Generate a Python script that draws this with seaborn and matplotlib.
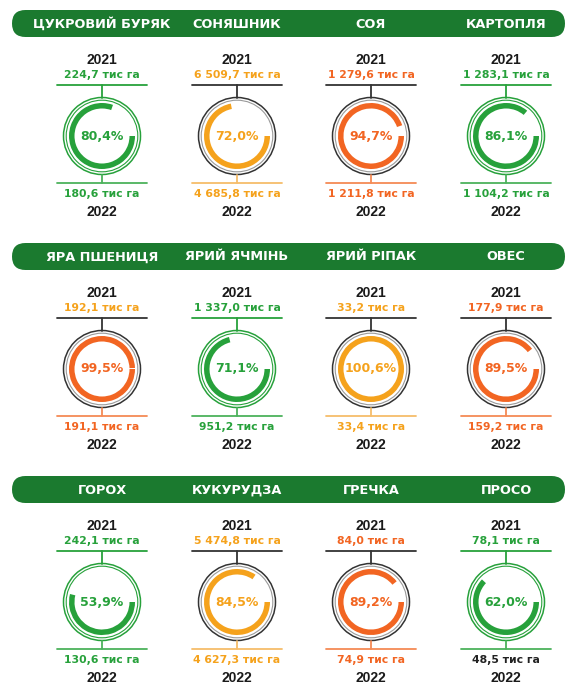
import matplotlib
matplotlib.use("Agg")
import matplotlib.pyplot as plt
from matplotlib.patches import Circle, Wedge, FancyBboxPatch
import seaborn as sns

# data read from the infographic
crops = [
    ["ЦУКРОВИЙ БУРЯК", "СОНЯШНИК", "СОЯ", "КАРТОПЛЯ"],
    ["ЯРА ПШЕНИЦЯ", "ЯРИЙ ЯЧМІНЬ", "ЯРИЙ РІПАК", "ОВЕС"],
    ["ГОРОХ", "КУКУРУДЗА", "ГРЕЧКА", "ПРОСО"],
]
area_2021 = [
    ["224,7", "6 509,7", "1 279,6", "1 283,1"],
    ["192,1", "1 337,0", "33,2", "177,9"],
    ["242,1", "5 474,8", "84,0", "78,1"],
]
area_2022 = [
    ["180,6", "4 685,8", "1 211,8", "1 104,2"],
    ["191,1", "951,2", "33,4", "159,2"],
    ["130,6", "4 627,3", "74,9", "48,5"],
]
pct = [
    [80.4, 72.0, 94.7, 86.1],
    [99.5, 71.1, 100.6, 89.5],
    [53.9, 84.5, 89.2, 62.0],
]
kind = [
    ["g", "y", "r", "g"],
    ["r", "g", "y", "r"],
    ["g", "y", "r", "g"],
]
# text colour overrides (as printed)
color_2021 = [
    ["g", "y", "r", "g"],
    ["y", "g", "y", "r"],
    ["g", "y", "r", "g"],
]
color_2022 = [
    ["g", "y", "r", "g"],
    ["r", "g", "y", "r"],
    ["g", "y", "r", "k"],
]

palette = {"g": "#27a13b", "y": "#f5a21c", "r": "#f26522", "k": "#222222"}
light = {"g": "#4cb25c", "y": "#f6bd6a", "r": "#f58a55"}
header_color = "#1b7a2f"

sns.set_theme(style="white")
plt.rcParams["font.family"] = ["DejaVu Sans"]

fig = plt.figure(figsize=(5.73, 6.97), dpi=100)
ax = fig.add_axes([0, 0, 1, 1])
ax.set_xlim(0, 573)
ax.set_ylim(697, 0)
ax.axis("off")

col_x = [102, 237, 371, 506]
row_y = [0, 233, 466]

for r, y0 in enumerate(row_y):
    bar = FancyBboxPatch((12, y0 + 10), 553, 27,
                         boxstyle="round,pad=0,rounding_size=13.5",
                         fc=header_color, ec="none")
    ax.add_patch(bar)
    for c, cx in enumerate(col_x):
        k = kind[r][c]
        col = palette[k]
        ring = col if k == "g" else "#333333"
        ring2 = col if k == "g" else "#9a9a9a"
        cy = y0 + 136

        ax.text(cx, y0 + 24, crops[r][c], color="white", fontsize=9.3,
                fontweight="bold", ha="center", va="center")
        ax.text(cx, y0 + 60, "2021", color="#1a1a1a", fontsize=10,
                fontweight="bold", ha="center", va="center",
                family="Liberation Sans")
        ax.text(cx, y0 + 75, area_2021[r][c] + " тис га",
                color=palette[color_2021[r][c]], fontsize=7.8,
                fontweight="bold", ha="center", va="center")

        # top connector
        ax.plot([cx - 45, cx + 45], [y0 + 85, y0 + 85], color=ring, lw=1.3)
        ax.plot([cx, cx], [y0 + 85, cy - 38], color=ring, lw=1.3)

        # rings
        ax.add_patch(Circle((cx, cy), 38.5, fc="white", ec=ring, lw=1.1))
        ax.add_patch(Circle((cx, cy), 35.8, fc="none", ec=ring2, lw=0.8))
        ang = min(pct[r][c], 100) * 3.6
        ax.add_patch(Wedge((cx, cy), 33, 0, ang, width=5.5, fc=col, ec="none"))

        ax.text(cx, cy, f"{pct[r][c]:.1f}%".replace(".", ","), color=col,
                fontsize=9, fontweight="bold", ha="center", va="center")

        # bottom connector
        ax.plot([cx, cx], [cy + 38.5, y0 + 183], color=light[k], lw=1.3)
        ax.plot([cx - 45, cx + 45], [y0 + 183, y0 + 183], color=light[k], lw=1.3)

        ax.text(cx, y0 + 194, area_2022[r][c] + " тис га",
                color=palette[color_2022[r][c]], fontsize=7.8,
                fontweight="bold", ha="center", va="center")
        ax.text(cx, y0 + 212, "2022", color="#1a1a1a", fontsize=10,
                fontweight="bold", ha="center", va="center",
                family="Liberation Sans")

fig.savefig("out.png", dpi=100, facecolor="white")
